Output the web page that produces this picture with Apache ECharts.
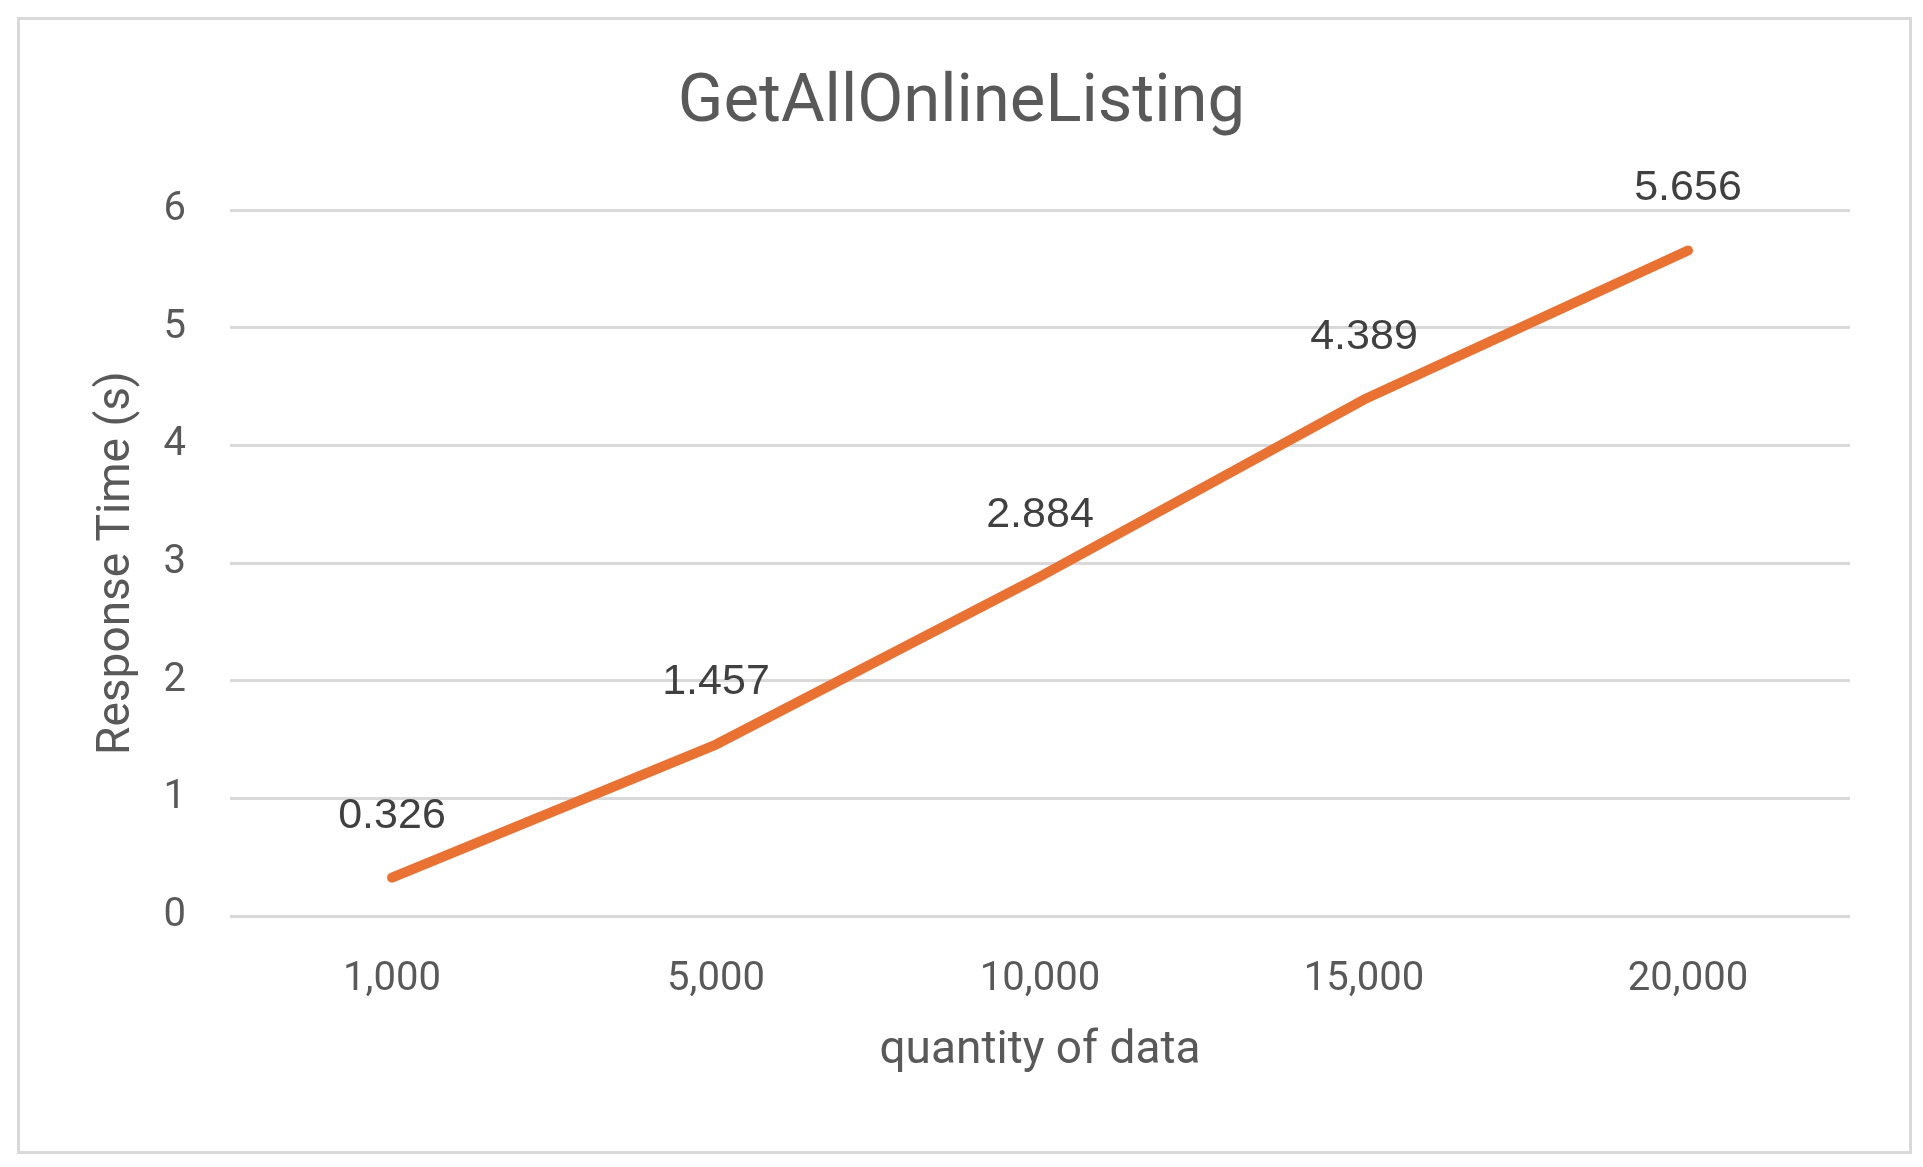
<!DOCTYPE html>
<html>
<head>
<meta charset="utf-8">
<title>GetAllOnlineListing</title>
<script src="https://cdn.jsdelivr.net/npm/echarts@6/dist/echarts.min.js"></script>
<style>
html, body { margin: 0; padding: 0; background: #fff; }
#chart { width: 1923px; height: 1167px; }
</style>
</head>
<body>
<div id="chart"></div>
<script>
// data
var categories = ["1,000", "5,000", "10,000", "15,000", "20,000"];
var responseTimes = [0.326, 1.457, 2.884, 4.389, 5.656];

var chart = echarts.init(document.getElementById("chart"));

var option = {
    backgroundColor: "#ffffff",
    animation: false,
    // outer frame of the chart area
    graphic: [
        {
            type: "rect",
            left: 16,
            top: 16,
            shape: { width: 1892, height: 1134 },
            style: { fill: "none", stroke: "#d9d9d9", lineWidth: 3 }
        }
    ],
    title: {
        text: "GetAllOnlineListing",
        left: "center",
        top: 66,
        textStyle: {
            fontFamily: "Roboto",
            fontWeight: "normal",
            fontSize: 67,
            color: "#595959"
        }
    },
    grid: {
        left: 230,
        right: 73,
        top: 210,
        bottom: 251
    },
    xAxis: {
        type: "category",
        data: categories,
        name: "quantity of data",
        nameLocation: "middle",
        nameGap: 112,
        nameTextStyle: {
            fontFamily: "Roboto",
            fontSize: 46,
            color: "#595959"
        },
        axisLine: { show: false },
        axisTick: { show: false },
        axisLabel: {
            margin: 44,
            fontFamily: "Roboto",
            fontSize: 40,
            color: "#595959"
        }
    },
    yAxis: {
        type: "value",
        min: 0,
        max: 6,
        interval: 1,
        name: "Response Time (s)",
        nameLocation: "middle",
        nameGap: 90,
        nameTextStyle: {
            fontFamily: "Roboto",
            fontSize: 46,
            color: "#595959"
        },
        axisLine: { show: false },
        axisTick: { show: false },
        axisLabel: {
            margin: 44,
            fontFamily: "Roboto",
            fontSize: 40,
            color: "#595959"
        },
        splitLine: {
            lineStyle: { color: "#d9d9d9", width: 3 }
        }
    },
    series: [
        {
            name: "Response Time",
            type: "line",
            data: responseTimes,
            showSymbol: true,
            symbol: "circle",
            symbolSize: 1,
            itemStyle: { color: "#e97132" },
            lineStyle: {
                color: "#e97132",
                width: 10,
                cap: "round",
                join: "round"
            },
            label: {
                show: true,
                position: "top",
                distance: 40,
                fontFamily: "Liberation Sans",
                fontSize: 43,
                color: "#404040",
                formatter: function (p) {
                    return p.value.toFixed(3);
                }
            }
        }
    ]
};

chart.setOption(option);
</script>
</body>
</html>
